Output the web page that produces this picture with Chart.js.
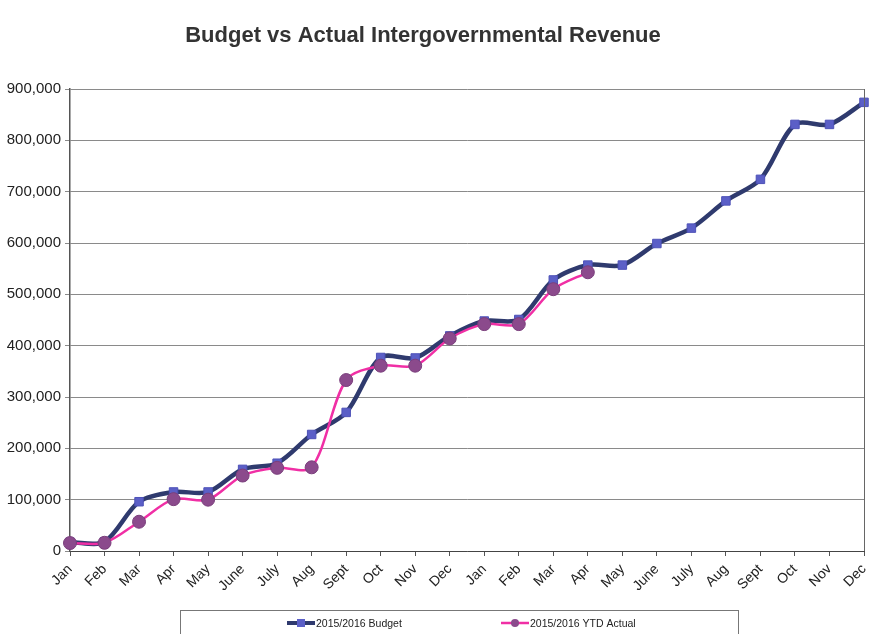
<!DOCTYPE html>
<html>
<head>
<meta charset="utf-8">
<script src="https://cdn.jsdelivr.net/npm/chart.js@4.4.1/dist/chart.umd.min.js"></script>
<style>
  html, body { margin: 0; padding: 0; background: #fff; }
  #wrap { position: relative; width: 875px; height: 634px; }
</style>
</head>
<body>
<div id="wrap"><canvas id="chart" width="875" height="634"></canvas></div>
<script>
const months = ['Jan', 'Feb', 'Mar', 'Apr', 'May', 'June', 'July', 'Aug', 'Sept', 'Oct', 'Nov', 'Dec',
                'Jan', 'Feb', 'Mar', 'Apr', 'May', 'June', 'July', 'Aug', 'Sept', 'Oct', 'Nov', 'Dec']

const budget = [17000, 18000, 96000, 115000, 115000, 159000, 171000, 227000, 270000, 377000, 376000, 419000,
                448000, 451000, 528000, 557000, 557000, 599000, 629000, 682000, 724000, 831000, 831000, 874000]

const ytdActual = [15500, 16000, 57000, 101000, 100000, 147000, 162000, 163000, 333000, 361000, 361000, 414000,
                   442000, 442000, 510000, 543000]

const seriesNames = ['2015/2016 Budget', '2015/2016 YTD Actual']

// legend box, title and right border of plot, drawn by hand
const frame = {
  id: 'frame',
  afterDraw(chart) {
    const ctx = chart.ctx
    const a = chart.chartArea
    ctx.save()
    ctx.strokeStyle = '#666'
    ctx.lineWidth = 1
    ctx.beginPath()
    ctx.moveTo(a.right + 0.5, a.top)
    ctx.lineTo(a.right + 0.5, a.bottom)
    ctx.stroke()

    // legend box
    ctx.strokeStyle = '#777'
    ctx.strokeRect(180.5, 610.5, 558, 40)

    const items = [
      { x: 287, line: '#2f3a6e', lw: 4, fill: '#5b5fc7', shape: 'rect' },
      { x: 501, line: '#f02fa5', lw: 2.5, fill: '#8b4a8c', shape: 'circle' }
    ]
    const y = 623
    items.forEach((it, i) => {
      ctx.strokeStyle = it.line
      ctx.lineWidth = it.lw
      ctx.beginPath()
      ctx.moveTo(it.x, y)
      ctx.lineTo(it.x + 28, y)
      ctx.stroke()
      ctx.fillStyle = it.fill
      if (it.shape === 'rect') {
        ctx.fillRect(it.x + 10, y - 4, 8, 8)
      } else {
        ctx.beginPath()
        ctx.arc(it.x + 14, y, 4, 0, Math.PI * 2)
        ctx.fill()
      }
      ctx.fillStyle = '#222'
      ctx.font = '10.5px "Liberation Sans", Arial, sans-serif'
      ctx.textAlign = 'left'
      ctx.textBaseline = 'middle'
      ctx.fillText(seriesNames[i], it.x + 29, y + 1)
    })

    // title
    ctx.fillStyle = '#333'
    ctx.font = 'bold 22px "Liberation Sans", Arial, sans-serif'
    ctx.textAlign = 'center'
    ctx.textBaseline = 'middle'
    ctx.fillText('Budget vs Actual Intergovernmental Revenue', 423, 36)
    ctx.restore()
  }
}

new Chart(document.getElementById('chart'), {
  type: 'line',
  data: {
    labels: months,
    datasets: [
      {
        label: seriesNames[0],
        data: budget,
        borderColor: '#2f3a6e',
        borderWidth: 4.5,
        pointStyle: 'rect',
        pointRadius: 6,
        pointBackgroundColor: '#5b5fc7',
        pointBorderColor: '#4e52b8',
        pointBorderWidth: 1,
        tension: 0.3,
        order: 2
      },
      {
        label: seriesNames[1],
        data: ytdActual,
        borderColor: '#f02fa5',
        borderWidth: 2.5,
        pointStyle: 'circle',
        pointRadius: 6.5,
        pointBackgroundColor: '#8b4a8c',
        pointBorderColor: '#7a3f7c',
        pointBorderWidth: 1,
        tension: 0.3,
        order: 1
      }
    ]
  },
  options: {
    responsive: false,
    animation: false,
    layout: { padding: { top: 89, right: 11, left: 0, bottom: 0 } },
    plugins: {
      legend: { display: false },
      title: { display: false },
      tooltip: { enabled: false }
    },
    scales: {
      x: {
        afterFit(scale) {
          scale.height = 83
          scale.paddingRight = 0
          scale.paddingLeft = 0
        },
        grid: { drawOnChartArea: false, drawTicks: true, tickLength: 5, color: '#555' },
        border: { color: '#444', width: 1 },
        ticks: {
          maxRotation: 45,
          minRotation: 45,
          autoSkip: false,
          color: '#222',
          padding: 5,
          font: { family: '"Liberation Sans", Arial, sans-serif', size: 14 }
        }
      },
      y: {
        min: 0,
        max: 900000,
        afterFit(scale) { scale.width = 70 },
        grid: { color: '#8a8a8a', lineWidth: 1, tickLength: 5 },
        border: { color: '#555', width: 1.5 },
        ticks: {
          stepSize: 100000,
          color: '#222',
          padding: 4,
          font: { family: '"Liberation Sans", Arial, sans-serif', size: 15 },
          callback: v => v.toLocaleString('en-US')
        }
      }
    }
  },
  plugins: [frame]
})
</script>
</body>
</html>
